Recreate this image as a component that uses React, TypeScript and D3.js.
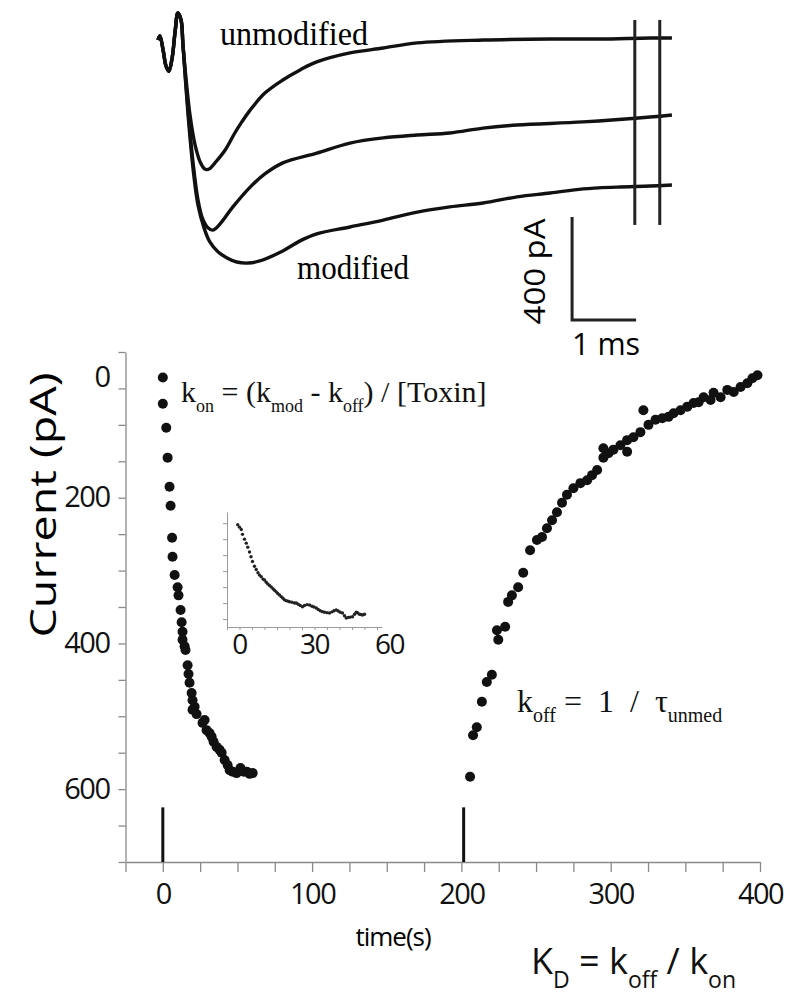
import React, { useEffect, useRef } from 'react';
import * as d3 from 'd3';

// ---- top panel: current traces, [time (ms), current (pA)] ----
const artifact: [number, number][] = [
  [0, -39], [0.03, -23], [0.08, -78], [0.125, -140], [0.17, -160], [0.22, -110],
  [0.27, 0], [0.31, 66], [0.36, 39], [0.39, -58],
];
const traceUnmod: [number, number][] = [
  [0.44, -194], [0.5, -330], [0.58, -447], [0.66, -513], [0.73, -540], [0.8, -540],
  [0.89, -516], [1.05, -466], [1.2, -400], [1.31, -357], [1.44, -311], [1.67, -245],
  [1.95, -194], [2.22, -155], [2.48, -124], [3.0, -89], [3.52, -70], [4.05, -50],
  [5.08, -39], [6.13, -35], [6.9, -35], [7.69, -31], [8.03, -31],
];
const traceMid: [number, number][] = [
  [0.47, -311], [0.55, -520], [0.625, -660], [0.7, -735], [0.78, -768], [0.86, -777],
  [0.97, -753], [1.17, -687], [1.44, -610], [1.67, -559], [1.95, -516], [2.48, -478],
  [3.0, -439], [3.52, -419], [4.05, -408], [4.56, -400], [5.08, -381], [5.61, -369],
  [6.64, -357], [7.69, -338], [8.03, -330],
];
const traceMod: [number, number][] = [
  [0.47, -330], [0.55, -544], [0.625, -680], [0.72, -769], [0.81, -823], [0.94, -862],
  [1.08, -885], [1.23, -901], [1.41, -905], [1.59, -897], [1.95, -858], [2.22, -819],
  [2.48, -792], [3.0, -765], [3.52, -738], [4.05, -707], [4.56, -687], [5.08, -672],
  [5.61, -648], [6.13, -633], [6.64, -617], [7.17, -610], [7.69, -606], [8.03, -602],
];
const cutMarks = [7.45, 7.84];
const cutRange = [39, -757];
const scaleBarT = [6.47, 7.47];
const scaleBarI = [-726, -1126];

// ---- main panel: [time (s), current (pA)] ----
const decay: [number, number][] = [
  [0, 35], [0, 71], [2.3, 104], [3.2, 145], [4.5, 185], [5.2, 211], [6.2, 255], [6.5, 281],
  [7.9, 306], [9.9, 323], [10.5, 334], [11.9, 354], [12.6, 371], [13.2, 384], [13.2, 395],
  [14.6, 404], [15.2, 409], [16.6, 430], [17.2, 442], [17.9, 454], [19.3, 468], [19.9, 478],
  [21.3, 487], [19.9, 491], [22.6, 497], [26.6, 509], [28, 505], [29.3, 519], [31.3, 523],
  [32.7, 528], [34, 535], [36, 542], [38, 546], [39.4, 550], [41.4, 560], [43.4, 567],
  [44.8, 574], [46.8, 576], [49.4, 578], [52, 571], [54.2, 576], [56.2, 576], [58.2, 579],
  [60.2, 578],
];
const recovery: [number, number][] = [
  [205.8, 583], [207.8, 526], [210.3, 515], [213.7, 480], [217, 453], [220.4, 443],
  [223.8, 382], [224.7, 395], [229.3, 377], [231.3, 343], [233.8, 334], [238, 323],
  [241.4, 303], [246, 272], [250.6, 258], [254, 254], [257.3, 242], [260.7, 231], [264, 220],
  [267.4, 207], [270.7, 196], [275, 187], [279.7, 180], [284.2, 176], [287.5, 169],
  [290.9, 162], [295.1, 145], [295.1, 132], [298.5, 139], [301.8, 134], [306.5, 128],
  [311, 137], [311, 121], [315.2, 117], [319.9, 110], [321.9, 80], [325.3, 100], [330, 93],
  [334.5, 91], [338.7, 89], [342.1, 84], [346.8, 80], [351.3, 75], [355.5, 70], [358.9, 69],
  [362.2, 62], [366.9, 66], [368.9, 56], [373.6, 62], [378.1, 52], [382.4, 55], [387, 48],
  [391.5, 43], [394.9, 36], [398.3, 32],
];
const stimTimes = [0, 201.5];
const stimRange = [625, 700];
const yTickVals = d3.range(0, 701, 50);
const yTickLabels = [0, 200, 400, 600];
const xTickVals = d3.range(-25, 401, 25);
const xTickLabels = [0, 100, 200, 300, 400];

// ---- inset: [time (s), relative current] ----
const inset: [number, number][] = [
  [-0.7, 5.9], [0, 5.75], [0.7, 5.6], [1.2, 5.3], [2, 5.0], [2.7, 4.75], [3.3, 4.5], [4, 4.2],
  [4.6, 3.9], [5.2, 3.6], [6, 3.3], [6.7, 3.1], [7.4, 2.9], [8, 2.75], [8.7, 2.65], [9.4, 2.5],
  [10, 2.44], [10.7, 2.3], [11.3, 2.2], [12, 2.1], [12.7, 2.0], [13.4, 1.9], [14, 1.8],
  [14.7, 1.7], [15.3, 1.6], [16, 1.5], [16.7, 1.4], [17.4, 1.3], [18, 1.2], [18.7, 1.15],
  [19.4, 1.12], [20, 1.08], [21, 1.05], [22, 1.0], [22.7, 1.0], [23.5, 0.92], [24.3, 0.85],
  [25.2, 0.77], [26, 0.85], [27, 0.9], [28, 0.88], [29, 0.8], [29.8, 0.75], [30.7, 0.69],
  [31.5, 0.6], [32.3, 0.52], [33.2, 0.46], [34, 0.42], [35, 0.4], [36, 0.38], [37, 0.45],
  [37.8, 0.52], [38.7, 0.56], [39.5, 0.5], [40.3, 0.42], [41.2, 0.38], [42, 0.2], [42.7, 0.06],
  [43.5, 0.1], [44.3, 0.12], [45.2, 0.14], [46, 0.3], [46.7, 0.42], [47.2, 0.39], [48, 0.3],
  [48.6, 0.28], [49.2, 0.25], [50, 0.3],
];
const insetXTicks = d3.range(-5, 56, 5);
const insetYTicks = d3.range(0, 7, 1);
const insetLabels = [0, 30, 60];

const SANS = '"Open Sans", "DejaVu Sans", sans-serif';
const SERIF = '"Liberation Serif", "DejaVu Serif", serif';

type Part = [string, boolean];

// text with subscripts built from tspans
const rich = (
  g: d3.Selection<SVGGElement, unknown, null, undefined>,
  x: number, y: number, parts: Part[], size: number, sub: number, shift: number, family: string
) => {
  const t = g.append('text')
    .attr('x', x).attr('y', y)
    .attr('font-family', family).attr('font-size', size)
    .attr('fill', '#111').style('white-space', 'pre');
  let low = false;
  parts.forEach(([s, isSub]) => {
    const ts = t.append('tspan').text(s);
    if (isSub) {
      ts.attr('font-size', sub);
      if (!low) { ts.attr('dy', shift); low = true; }
    } else if (low) {
      ts.attr('dy', -shift); low = false;
    }
  });
};

export default function App() {
  const ref = useRef<SVGSVGElement>(null);

  useEffect(() => {
    if (!ref.current) return;
    const svg = d3.select(ref.current);
    svg.selectAll('*').remove();
    const g = svg.append('g');

    // ---------- top traces ----------
    const tx = d3.scaleLinear().domain([0, 8]).range([158, 670]);
    const ty = d3.scaleLinear().domain([0, -1000]).range([30, 287.5]);
    const traceLine = d3.line<[number, number]>()
      .x(d => tx(d[0])).y(d => ty(d[1]))
      .curve(d3.curveCatmullRom.alpha(0.5));

    [traceUnmod, traceMid, traceMod].forEach(tr => {
      g.append('path')
        .attr('d', traceLine([...artifact, ...tr]))
        .attr('fill', 'none').attr('stroke', '#111')
        .attr('stroke-width', 3.4).attr('stroke-linejoin', 'round');
    });

    cutMarks.forEach(t => {
      g.append('line')
        .attr('x1', tx(t)).attr('x2', tx(t))
        .attr('y1', ty(cutRange[0])).attr('y2', ty(cutRange[1]))
        .attr('stroke', '#222').attr('stroke-width', 3);
    });

    // scale bar
    g.append('path')
      .attr('d', `M${tx(scaleBarT[0])},${ty(scaleBarI[0])}V${ty(scaleBarI[1])}H${tx(scaleBarT[1])}`)
      .attr('fill', 'none').attr('stroke', '#222').attr('stroke-width', 3);

    g.append('text')
      .attr('transform', `translate(545,${(ty(scaleBarI[0]) + ty(scaleBarI[1])) / 2 + 3}) rotate(-90)`)
      .attr('text-anchor', 'middle').attr('font-family', SANS).attr('font-size', 29)
      .attr('textLength', 106).attr('lengthAdjust', 'spacingAndGlyphs')
      .text('400 pA');
    g.append('text')
      .attr('x', tx(scaleBarT[0])).attr('y', 355)
      .attr('font-family', SANS).attr('font-size', 31)
      .attr('textLength', 68).attr('lengthAdjust', 'spacingAndGlyphs')
      .text('1 ms');

    g.append('text')
      .attr('x', 220).attr('y', 45)
      .attr('font-family', SERIF).attr('font-size', 33)
      .attr('textLength', 148).attr('lengthAdjust', 'spacingAndGlyphs')
      .text('unmodified');
    g.append('text')
      .attr('x', 297).attr('y', 279)
      .attr('font-family', SERIF).attr('font-size', 33)
      .attr('textLength', 112).attr('lengthAdjust', 'spacingAndGlyphs')
      .text('modified');

    // ---------- main panel ----------
    const x = d3.scaleLinear().domain([-25, 400]).range([125.5, 760]);
    const y = d3.scaleLinear().domain([0, 700]).range([352, 862]);

    const yAxis = g.append('g')
      .attr('transform', `translate(${x(-25)},0)`)
      .call(d3.axisLeft(y).tickValues(yTickVals).tickSize(7).tickSizeOuter(0).tickPadding(9)
        .tickFormat(d => (yTickLabels.includes(+d) ? String(d) : '')));
    const xAxis = g.append('g')
      .attr('transform', `translate(0,${y(700)})`)
      .call(d3.axisBottom(x).tickValues(xTickVals).tickSize(10).tickSizeOuter(0).tickPadding(11)
        .tickFormat(d => (xTickLabels.includes(+d) ? String(d) : '')));

    [yAxis, xAxis].forEach(ax => {
      ax.select('.domain').attr('stroke', '#8a8a8a').attr('stroke-width', 1.3);
      ax.selectAll('.tick line').attr('stroke', '#8a8a8a').attr('stroke-width', 1.3);
      ax.selectAll('.tick text')
        .attr('font-family', SANS).attr('font-size', 29)
        .attr('letter-spacing', -1.5).attr('fill', '#111');
    });
    // the "0" label sits lower than its tick in the original figure
    yAxis.selectAll<SVGTextElement, number>('.tick text')
      .filter(d => d === 0).attr('dy', '1.2em');

    g.append('text')
      .attr('transform', 'translate(56,505) rotate(-90)')
      .attr('text-anchor', 'middle').attr('font-family', SANS).attr('font-size', 36)
      .attr('textLength', 265).attr('lengthAdjust', 'spacingAndGlyphs')
      .text('Current (pA)');
    g.append('text')
      .attr('x', 393).attr('y', 946)
      .attr('text-anchor', 'middle').attr('font-family', SANS).attr('font-size', 26)
      .attr('letter-spacing', -1)
      .text('time(s)');

    stimTimes.forEach(t => {
      g.append('line')
        .attr('x1', x(t)).attr('x2', x(t))
        .attr('y1', y(stimRange[0])).attr('y2', y(stimRange[1]))
        .attr('stroke', '#111').attr('stroke-width', 3);
    });

    g.append('g').selectAll('circle')
      .data([...decay, ...recovery])
      .join('circle')
      .attr('cx', d => x(d[0])).attr('cy', d => y(d[1]))
      .attr('r', 5).attr('fill', '#111');

    // ---------- inset ----------
    const ix = d3.scaleLinear().domain([-5, 57]).range([227, 382]);
    const iy = d3.scaleLinear().domain([-0.5, 6.7]).range([627, 512]);
    const iyAxis = g.append('g')
      .attr('transform', `translate(${ix(-5)},0)`)
      .call(d3.axisLeft(iy).tickValues(insetYTicks).tickSize(4).tickSizeOuter(0).tickFormat(() => ''));
    const ixAxis = g.append('g')
      .attr('transform', `translate(0,${iy(-0.5)})`)
      .call(d3.axisBottom(ix).tickValues(insetXTicks).tickSize(3).tickSizeOuter(0).tickFormat(() => ''));
    [iyAxis, ixAxis].forEach(ax => {
      ax.select('.domain').attr('stroke', '#9a9a9a').attr('stroke-width', 1);
      ax.selectAll('.tick line').attr('stroke', '#9a9a9a').attr('stroke-width', 1);
    });
    g.append('g').selectAll('text')
      .data(insetLabels)
      .join('text')
      .attr('x', d => ix(d)).attr('y', 654)
      .attr('text-anchor', 'middle').attr('font-family', SANS).attr('font-size', 28)
      .attr('letter-spacing', -1.5).attr('fill', '#111')
      .text(d => String(d));
    g.append('g').selectAll('circle')
      .data(inset)
      .join('circle')
      .attr('cx', d => ix(d[0])).attr('cy', d => iy(d[1]))
      .attr('r', 1.7).attr('fill', '#222');

    // ---------- formulas ----------
    rich(g, 181, 402, [['k', false], ['on', true], [' = (k', false], ['mod', true], [' - k', false],
      ['off', true], [') / [Toxin]', false]], 30, 18, 10, SERIF);
    rich(g, 517, 712, [['k', false], ['off', true], [' =  1  /  τ', false], ['unmed', true]],
      32, 20, 10, SERIF);
    rich(g, 531, 974, [['K', false], ['D', true], [' = k', false], ['off', true], [' / k', false],
      ['on', true]], 36, 23, 14, SANS);
  }, []);

  return (
    <svg
      ref={ref}
      width={790}
      height={1001}
      viewBox="0 0 790 1001"
      style={{ position: 'absolute', left: 0, top: 0, background: '#fff' }}
    />
  );
}
